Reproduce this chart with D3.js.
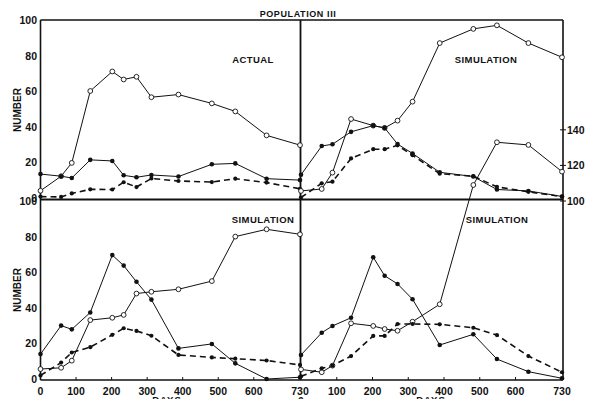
<!DOCTYPE html>
<html>
<head>
<meta charset="utf-8">
<script src="https://cdn.jsdelivr.net/npm/d3@7"></script>
<style>
  html, body { margin: 0; padding: 0; background: #fff; }
  svg { display: block; }
  text { font-family: "Liberation Sans", Arial, sans-serif; fill: #111; }
</style>
</head>
<body>
<svg id="chart" width="593" height="399"></svg>
<script>
// ---- data ----
const days = [0, 58, 88, 140, 202, 234, 270, 312, 388, 482, 548, 636, 730];
const xTicks = [0, 100, 200, 300, 400, 500, 600, 730];
const yTicks = [0, 20, 40, 60, 80, 100];
const rightTicks = [100, 120, 140];

// Top-left: ACTUAL
const tlOpen   = [3.8, 12, 19.5, 60, 71, 66.5, 68, 56.5, 58, 53, 48.5, 35, 29.5];
const tlFilled = [13.2, 12, 11, 21.2, 20.6, 12.5, 11.4, 12.7, 11.8, 18.7, 19.2, 10.6, 9.8];
const tlDashed = [0.5, 0.3, 2.3, 4.6, 4.5, 8.6, 5.9, 10.7, 9.3, 8.7, 10.6, 8.4, 4.9];

// Top-right: SIMULATION
const trOpen   = [3.7, 4.8, 14, 44.2, 40.5, 39.2, 43.3, 54, 87, 95, 97, 87, 79];
const trFilled = [12.8, 29, 30, 37, 40.5, 39.2, 30.1, 24.8, 14.2, 11.8, 4.5, 3.7, 0.6];
const trDashed = [0, 8, 8.9, 22, 27.2, 27.2, 29.4, 23.8, 13.4, 12, 6, 3.2, 0.5];

// Bottom-left: SIMULATION
const blOpen   = [5.6, 6.3, 10.3, 33.1, 34.4, 36, 48, 49, 50.4, 55, 80, 84.1, 81.3];
const blFilled = [14, 30, 27.9, 37.4, 69.6, 63.7, 54.6, 44.6, 17.2, 19.7, 8.8, 0, 1];
const blDashed = [2, 9.2, 14.9, 17.9, 24.8, 28.5, 27, 24.3, 13.5, 12.1, 11.4, 10.4, 7.9];

// Bottom-right: SIMULATION (open series continues above 100, right-hand scale)
const brOpen   = [5.4, 3.8, 7.5, 31.3, 29.8, 28.1, 27.1, 32.2, 42, 109, 133, 131.5, 116.5];
const brFilled = [13.5, 26, 29.8, 34.4, 68.4, 58, 53.4, 44.8, 19.1, 25.1, 11.2, 4.1, 0.4];
const brDashed = [1.5, 6, 7.5, 12.9, 24.2, 24.2, 30.9, 30.9, 30.7, 28.8, 24.7, 12.9, 3.8];

// ---- layout ----
const svg = d3.select("#chart");
const L = 40.5, M = 300.5, R = 563, T = 20, H = 199.5, B = 380;

const xLeft  = d3.scaleLinear().domain([0, 730]).range([40.5, 300]);
const xRight = d3.scaleLinear().domain([0, 730]).range([301, 562]);
const yTop   = d3.scaleLinear().domain([0, 100]).range([197.5, 20]);
const yBot   = d3.scaleLinear().domain([0, 100]).range([379, 201]);

const panels = [
  { x: xLeft,  y: yTop, open: tlOpen, filled: tlFilled, dashed: tlDashed },
  { x: xRight, y: yTop, open: trOpen, filled: trFilled, dashed: trDashed },
  { x: xLeft,  y: yBot, open: blOpen, filled: blFilled, dashed: blDashed },
  { x: xRight, y: yBot, open: brOpen, filled: brFilled, dashed: brDashed }
];

// ---- frame ----
const frame = svg.append("g").attr("stroke", "#111").attr("fill", "none");
frame.append("line").attr("x1", L).attr("x2", R).attr("y1", T).attr("y2", T).attr("stroke-width", 1.4);
frame.append("line").attr("x1", L).attr("x2", R).attr("y1", H).attr("y2", H).attr("stroke-width", 2);
frame.append("line").attr("x1", L).attr("x2", R).attr("y1", B).attr("y2", B).attr("stroke-width", 1.6);
frame.append("line").attr("x1", L).attr("x2", L).attr("y1", T).attr("y2", B).attr("stroke-width", 1.6);
frame.append("line").attr("x1", M).attr("x2", M).attr("y1", T).attr("y2", B).attr("stroke-width", 1.8);
frame.append("line").attr("x1", R).attr("x2", R).attr("y1", T).attr("y2", B).attr("stroke-width", 1.6);

// x ticks (small inward ticks) and labels
[xLeft, xRight].forEach((xs, k) => {
  const g = svg.append("g");
  g.selectAll("line.xt").data(xTicks.filter(t => t > 0 && t < 730)).enter().append("line")
    .attr("x1", d => xs(d)).attr("x2", d => xs(d))
    .attr("y1", B).attr("y2", B - 3).attr("stroke", "#111").attr("stroke-width", 1);
  g.selectAll("text").data(k === 0 ? xTicks : xTicks.slice(1)).enter().append("text")
    .attr("x", d => xs(d)).attr("y", 394.5)
    .attr("text-anchor", "middle").attr("font-size", 10.5).attr("font-weight", "bold")
    .text(d => d);
});
svg.append("text").attr("x", xRight(0)).attr("y", 405).attr("text-anchor", "middle")
  .attr("font-size", 10.5).attr("font-weight", "bold").text("0");
svg.append("text").attr("x", 167).attr("y", 403).attr("text-anchor", "middle")
  .attr("font-size", 9.5).attr("font-weight", "bold").attr("letter-spacing", 1).text("DAYS");
svg.append("text").attr("x", 431).attr("y", 403).attr("text-anchor", "middle")
  .attr("font-size", 9.5).attr("font-weight", "bold").attr("letter-spacing", 1).text("DAYS");

// y labels (left)
[yTop, yBot].forEach(ys => {
  svg.append("g").selectAll("text").data(yTicks).enter().append("text")
    .attr("x", 37).attr("y", d => ys(d) + 4)
    .attr("text-anchor", "end").attr("font-size", 10.5).attr("font-weight", "bold")
    .text(d => d);
});
// right-hand scale (bottom-right panel extended upward)
const rg = svg.append("g");
rg.selectAll("line").data(rightTicks).enter().append("line")
  .attr("x1", R - 3).attr("x2", R + 3).attr("y1", d => yBot(d)).attr("y2", d => yBot(d))
  .attr("stroke", "#111").attr("stroke-width", 1);
rg.selectAll("text").data(rightTicks).enter().append("text")
  .attr("x", R + 4).attr("y", d => yBot(d) + 4)
  .attr("font-size", 10.5).attr("font-weight", "bold").text(d => d);

// NUMBER labels
[110, 290].forEach(cy => {
  svg.append("text").attr("transform", `translate(21,${cy}) rotate(-90)`)
    .attr("text-anchor", "middle").attr("font-size", 10).attr("font-weight", "bold").text("NUMBER");
});

// Title & panel labels
svg.append("text").attr("x", 298).attr("y", 17).attr("text-anchor", "middle")
  .attr("font-size", 9).attr("font-weight", "bold").attr("letter-spacing", 0.6).text("POPULATION III");
const labels = [
  { t: "ACTUAL", x: 253, y: 63 },
  { t: "SIMULATION", x: 486, y: 63 },
  { t: "SIMULATION", x: 263, y: 223 },
  { t: "SIMULATION", x: 497, y: 223 }
];
svg.append("g").selectAll("text").data(labels).enter().append("text")
  .attr("x", d => d.x).attr("y", d => d.y).attr("text-anchor", "middle")
  .attr("font-size", 9.5).attr("font-weight", "bold").attr("letter-spacing", 0.4)
  .text(d => d.t);

// ---- series ----
panels.forEach(p => {
  const line = d3.line().x((d, i) => p.x(days[i])).y(d => p.y(d));
  const g = svg.append("g");
  g.append("path").attr("d", line(p.dashed)).attr("fill", "none")
    .attr("stroke", "#111").attr("stroke-width", 1.6).attr("stroke-dasharray", "6,4");
  g.append("path").attr("d", line(p.filled)).attr("fill", "none")
    .attr("stroke", "#111").attr("stroke-width", 1);
  g.append("path").attr("d", line(p.open)).attr("fill", "none")
    .attr("stroke", "#111").attr("stroke-width", 1);
  g.selectAll("circle.o").data(p.open).enter().append("circle")
    .attr("cx", (d, i) => p.x(days[i])).attr("cy", d => p.y(d)).attr("r", 2.4)
    .attr("fill", "#fff").attr("stroke", "#111").attr("stroke-width", 0.9);
  g.selectAll("circle.d").data(p.dashed).enter().append("circle")
    .attr("cx", (d, i) => p.x(days[i])).attr("cy", d => p.y(d)).attr("r", 2.1)
    .attr("fill", "#111");
  g.selectAll("circle.f").data(p.filled).enter().append("circle")
    .attr("cx", (d, i) => p.x(days[i])).attr("cy", d => p.y(d)).attr("r", 2.3)
    .attr("fill", "#111");
});
</script>
</body>
</html>
